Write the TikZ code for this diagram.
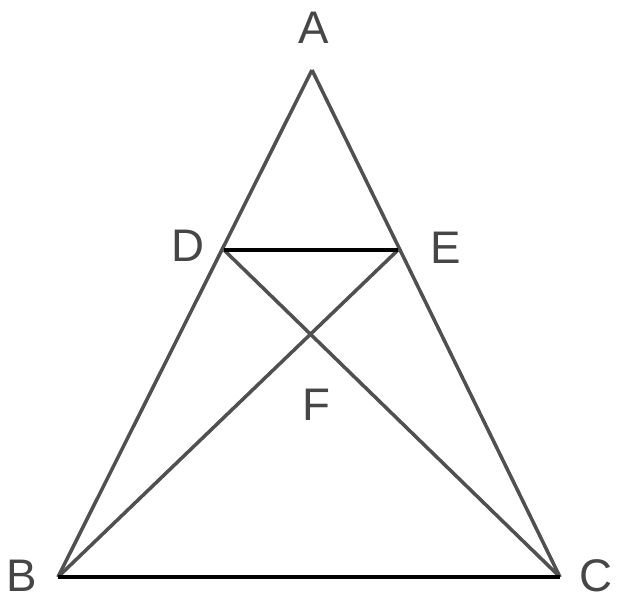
\documentclass[tikz,border=0pt]{standalone}
\usepackage{fontspec}
\setmainfont{Liberation Sans}
\usetikzlibrary{calc,intersections}
\definecolor{lblgray}{RGB}{70,70,70}
\definecolor{sidegray}{RGB}{80,80,80}

\begin{document}
\begin{tikzpicture}[
  x=0.02cm, y=-0.02cm,
  ptlabel/.style={
    font=\fontsize{26}{28}\selectfont,
    text=lblgray,
    inner sep=0pt
  },
  side/.style={line width=2pt, draw=sidegray},
  heavy/.style={line width=2.8pt, draw=black}
]
\useasboundingbox (0,0) rectangle (621,600);

\coordinate (A) at (312,70);
\coordinate (B) at (58,577);
\coordinate (C) at (560,577);
\coordinate (D) at (224,250);
\coordinate (E) at (398,250);

\draw[side, name path=be] (B) -- (E);
\draw[side, name path=cd] (C) -- (D);
\path[name intersections={of=be and cd, by=F}];

\draw[side] (A) -- (B);
\draw[side] (A) -- (C);
\draw[heavy] (D) -- (E);
\draw[heavy] (B) -- (C);

\node[ptlabel] (lA) at (314,28)  {A};
\node[ptlabel] (lB) at (22,576)  {B};
\node[ptlabel] (lC) at (596,576) {C};
\node[ptlabel] (lD) at (188,246) {D};
\node[ptlabel] (lE) at (446,248) {E};
\node[ptlabel] (lF) at (316,405) {F};
\end{tikzpicture}
\end{document}
